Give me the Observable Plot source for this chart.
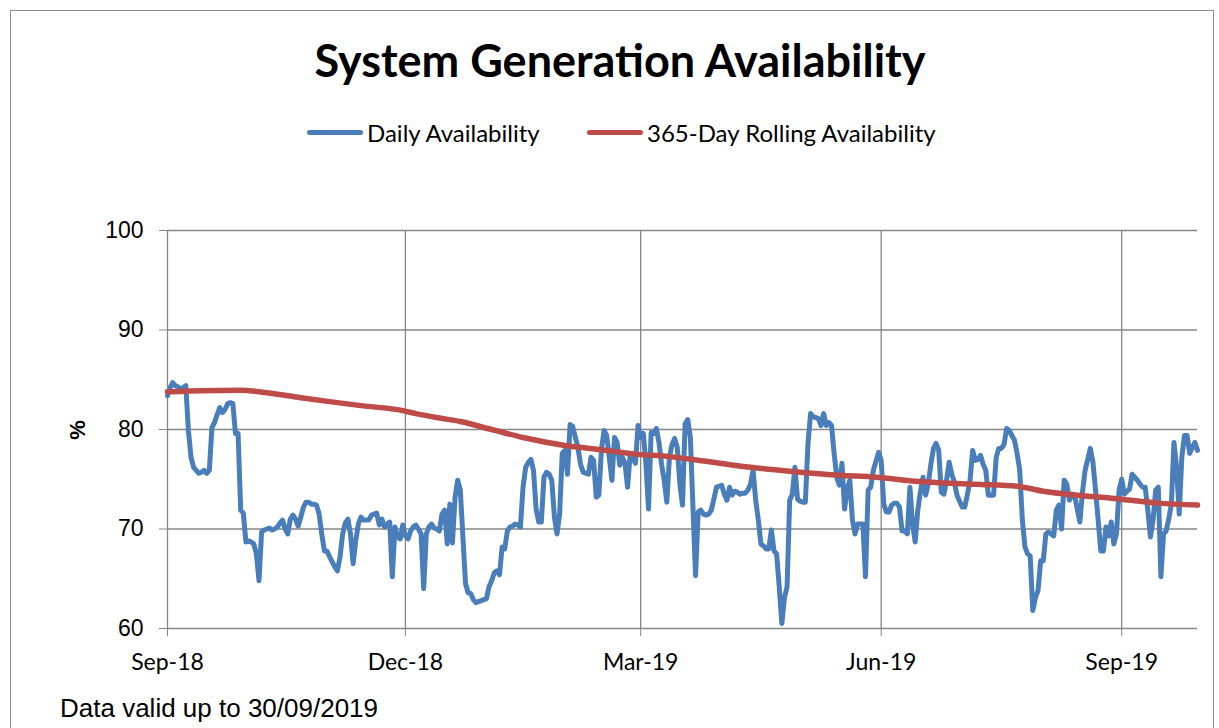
<!DOCTYPE html>
<html>
<head>
<meta charset="utf-8">
<script src="https://cdn.jsdelivr.net/npm/d3@7"></script>
<script src="https://cdn.jsdelivr.net/npm/@observablehq/plot@0.6"></script>
<style>
  html, body { margin: 0; padding: 0; background: #fff; }
  #wrap { position: relative; width: 1219px; height: 728px; overflow: hidden; }
  #frame { position: absolute; left: 10px; top: 10px; width: 1204px; height: 760px; border: 1px solid #8c8c8c; box-sizing: border-box; }
  #title { position: absolute; left: 0; width: 1240px; top: 34px; text-align: center; font-family: Lato, "Open Sans", sans-serif; font-weight: bold; font-size: 45px; color: #000; line-height: 52px; }
  #legend { position: absolute; top: 117px; left: 0; width: 1219px; height: 30px; font-family: Lato, "Open Sans", sans-serif; font-size: 24px; color: #000; }
  .lg { position: absolute; display: flex; align-items: center; height: 30px; white-space: nowrap; }
  .sw { display: inline-block; width: 56px; height: 5px; border-radius: 3px; margin-right: 4px; }
  #ylabel { position: absolute; left: 66px; top: 418px; width: 24px; height: 24px; font-family: "Liberation Sans", Arial, sans-serif; font-weight: bold; font-size: 22px; transform: rotate(-90deg); text-align: center; line-height: 24px; }
  #chart { position: absolute; left: 0; top: 200px; }
  #footer { position: absolute; left: 60px; top: 693px; font-family: "Liberation Sans", Arial, sans-serif; font-size: 26px; color: #000; white-space: nowrap; }
</style>
</head>
<body>
<div id="wrap">
  <div id="frame"></div>
  <div id="title">System Generation Availability</div>
  <div id="legend"></div>
  <div id="ylabel">%</div>
  <div id="chart"></div>
  <div id="footer">Data valid up to 30/09/2019</div>
</div>
<script>
// ---- data ----
const startDate = "2018-09-01";
const endDate = "2019-09-30";
const seriesNames = ["Daily Availability", "365-Day Rolling Availability"];
const seriesColors = ["#4A7EBB", "#BE4B48"];
// daily availability (%), one value per day from 1 Sep 2018
const dailyValues = [
  83.4, 84.2, 84.7, 84.4, 84.3, 84.0, 84.2, 84.4, 79.9, 77.2,
  76.2, 75.9, 75.6, 75.7, 75.9, 75.6, 75.9, 80.2, 80.7, 81.5,
  82.2, 81.7, 82.0, 82.6, 82.7, 82.6, 79.6, 79.6, 71.9, 71.6,
  68.7, 68.8, 68.7, 68.5, 67.5, 64.8, 69.7, 69.9, 70.0, 70.1,
  69.9, 70.0, 70.2, 70.6, 70.9, 70.0, 69.5, 71.0, 71.4, 71.0,
  70.3, 71.2, 72.2, 72.7, 72.7, 72.5, 72.5, 72.4, 71.5, 69.5,
  67.8, 67.8, 67.2, 66.7, 66.2, 65.8, 67.2, 69.5, 70.6, 71.0,
  69.5, 66.5, 68.8, 70.5, 71.2, 70.9, 70.9, 70.9, 71.4, 71.5,
  71.6, 70.4, 71.0, 70.2, 70.5, 70.7, 65.2, 70.2, 69.2, 69.0,
  70.4, 69.3, 69.0, 69.8, 70.2, 70.4, 70.0, 69.5, 64.0, 69.5,
  70.2, 70.5, 70.1, 70.0, 69.8, 71.5, 71.9, 68.5, 72.5, 68.6,
  73.2, 74.9, 73.9, 69.2, 64.5, 63.6, 63.5, 62.9, 62.6, 62.7,
  62.8, 62.9, 63.0, 64.2, 64.8, 65.6, 65.8, 65.4, 68.2, 68.0,
  69.8, 70.2, 70.3, 70.5, 70.4, 70.2, 74.2, 76.2, 76.7, 77.0,
  75.9, 72.0, 70.7, 70.7, 75.2, 75.7, 75.5, 74.9, 71.2, 69.5,
  71.5, 77.6, 77.9, 75.5, 80.5, 80.3, 79.2, 78.2, 76.5, 75.7,
  75.6, 75.5, 77.2, 76.9, 73.2, 73.4, 78.0, 79.9, 79.4, 77.2,
  74.9, 79.2, 78.7, 76.4, 77.2, 76.6, 74.2, 77.6, 77.1, 76.6,
  80.4, 79.2, 79.6, 76.6, 72.0, 79.7, 79.6, 80.1, 78.7, 76.5,
  74.9, 72.7, 77.2, 78.5, 79.1, 78.2, 74.5, 72.4, 80.6, 81.0,
  79.2, 72.2, 65.3, 71.7, 71.9, 71.5, 71.4, 71.5, 71.9, 73.0,
  74.2, 74.3, 74.4, 73.5, 72.9, 74.2, 73.4, 73.8, 73.7, 73.5,
  73.6, 73.6, 73.9, 74.5, 75.9, 72.9, 70.9, 68.5, 68.3, 68.0,
  68.0, 69.9, 67.8, 67.5, 64.2, 60.5, 63.1, 64.2, 72.9, 73.5,
  76.2, 73.0, 72.8, 72.7, 72.7, 78.6, 81.6, 81.3, 81.2, 81.1,
  80.4, 81.6, 80.4, 80.7, 80.4, 77.6, 75.2, 74.4, 76.6, 72.0,
  74.0, 74.9, 70.9, 69.5, 70.5, 70.5, 70.5, 65.2, 73.9, 74.2,
  75.9, 76.8, 77.7, 76.9, 72.5, 71.7, 71.7, 72.4, 72.6, 72.6,
  72.2, 69.8, 69.8, 69.5, 74.2, 70.5, 68.7, 71.9, 73.7, 75.2,
  73.4, 74.5, 76.5, 78.1, 78.6, 77.9, 73.7, 73.5, 74.9, 76.7,
  75.5, 74.7, 73.4, 72.8, 72.2, 72.2, 73.5, 74.9, 77.9, 76.9,
  77.0, 77.4, 76.5, 75.9, 73.4, 73.4, 73.4, 77.2, 78.1, 78.1,
  78.5, 80.1, 79.9, 79.4, 78.9, 77.6, 75.9, 70.9, 68.2, 67.5,
  67.3, 61.8, 63.1, 63.8, 66.8, 66.8, 69.5, 69.7, 69.5, 69.3,
  71.9, 72.4, 70.0, 74.9, 74.5, 72.9, 73.5, 73.4, 72.0, 70.7,
  73.7, 75.9, 77.0, 78.1, 76.7, 73.9, 70.9, 67.8, 67.8, 70.2,
  69.3, 70.7, 68.5, 69.5, 73.9, 75.0, 73.5, 73.8, 74.0, 75.5,
  75.2, 74.9, 74.5, 74.2, 74.2, 71.9, 69.2, 70.9, 73.9, 74.2,
  65.2, 69.5, 69.8, 71.0, 72.5, 78.7, 76.2, 71.5, 77.2, 79.4,
  79.4, 77.6, 78.2, 78.7, 77.9
];
// 365-day rolling availability, read at day offsets from 1 Sep 2018
const rollingDays = [0, 28, 38, 51, 62, 74, 90, 95, 103, 112, 124, 136, 152, 165, 180, 191, 206, 223, 238, 257, 271, 286, 309, 325, 335, 348, 361, 379, 394];
const rollingValues = [83.8, 83.95, 83.7, 83.2, 82.8, 82.4, 81.9, 81.6, 81.2, 80.8, 80.0, 79.2, 78.4, 78.0, 77.5, 77.3, 76.8, 76.2, 75.8, 75.4, 75.2, 74.8, 74.5, 74.3, 73.8, 73.4, 73.1, 72.6, 72.4];
const xTickDates = ["2018-09-01", "2018-12-01", "2019-03-01", "2019-06-01", "2019-09-01"];
const xTickLabels = ["Sep-18", "Dec-18", "Mar-19", "Jun-19", "Sep-19"];
const yTicks = [60, 70, 80, 90, 100];

// ---- build tables ----
const DAY = 86400000;
const t0 = new Date(startDate + "T00:00:00Z").getTime();
const daily = dailyValues.map((v, i) => ({date: new Date(t0 + i * DAY), value: v}));
const rolling = rollingDays.map((d, i) => ({date: new Date(t0 + d * DAY), value: rollingValues[i]}));
const tickDates = xTickDates.map(s => new Date(s + "T00:00:00Z"));
const labelByTime = new Map(tickDates.map((d, i) => [d.getTime(), xTickLabels[i]]));

const grid = "#868686";
const chart = Plot.plot({
  width: 1219,
  height: 480,
  marginLeft: 167,
  marginRight: 22,
  marginTop: 30,
  marginBottom: 52,
  style: {background: "transparent", overflow: "visible"},
  x: {type: "utc", domain: [new Date(startDate + "T00:00:00Z"), new Date(endDate + "T00:00:00Z")]},
  y: {domain: [60, 100]},
  marks: [
    Plot.ruleY(yTicks, {stroke: grid, strokeWidth: 1.3}),
    Plot.ruleX(tickDates, {y1: 60, y2: 100, stroke: grid, strokeWidth: 1.3}),
    Plot.axisY(yTicks, {tickSize: 8, tickPadding: 16, fontSize: 23, fontFamily: "Liberation Sans, Arial, sans-serif", stroke: grid, fill: "#000", label: null}),
    Plot.axisX(tickDates, {tickSize: 8, tickPadding: 17, fontSize: 23, fontFamily: "Lato, 'Open Sans', sans-serif", stroke: grid, fill: "#000", label: null, tickFormat: d => labelByTime.get(d.getTime())}),
    Plot.line(daily, {x: "date", y: "value", stroke: seriesColors[0], strokeWidth: 5, strokeLinejoin: "round", strokeLinecap: "round"}),
    Plot.line(rolling, {x: "date", y: "value", stroke: seriesColors[1], strokeWidth: 5.5, curve: "monotone-x", strokeLinecap: "round"})
  ]
});
document.getElementById("chart").appendChild(chart);

// legend
const legend = document.getElementById("legend");
const lgX = [307, 587];
seriesNames.forEach((name, i) => {
  const item = document.createElement("div");
  item.className = "lg";
  item.style.left = lgX[i] + "px";
  const sw = document.createElement("span");
  sw.className = "sw";
  sw.style.background = seriesColors[i];
  const tx = document.createElement("span");
  tx.textContent = name;
  item.appendChild(sw);
  item.appendChild(tx);
  legend.appendChild(item);
});
</script>
</body>
</html>
